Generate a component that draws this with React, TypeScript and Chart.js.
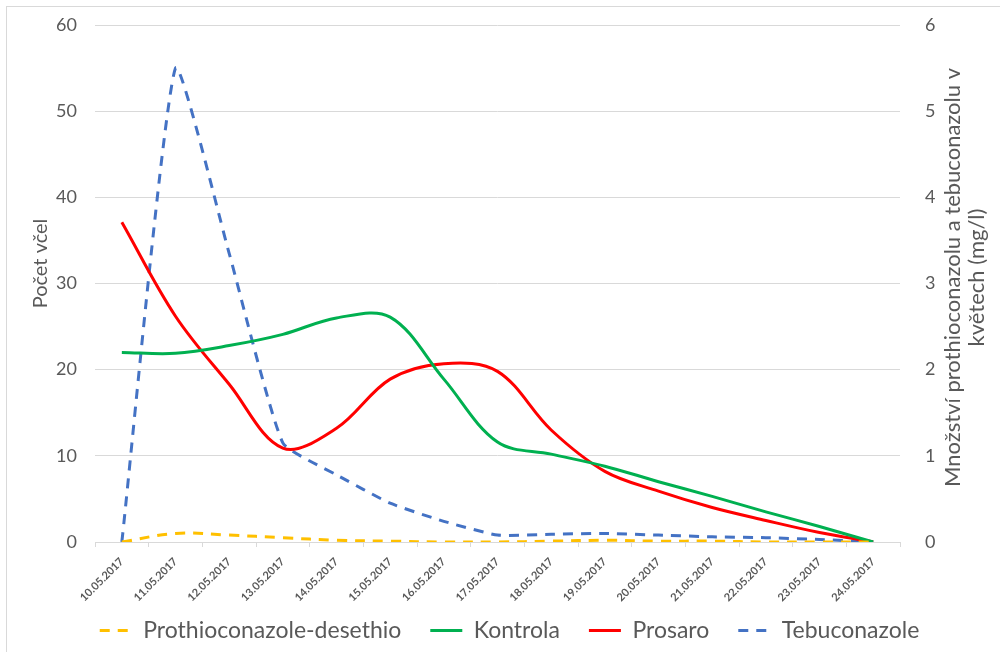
import React, { useEffect, useRef } from "react";
import { Chart, registerables } from "chart.js";

Chart.register(...registerables);

const FONT = "Lato, 'Open Sans', sans-serif";
const TEXT_COLOR = "#595959";
const GRID_COLOR = "#d9d9d9";

const dates = [
  "10.05.2017", "11.05.2017", "12.05.2017", "13.05.2017", "14.05.2017",
  "15.05.2017", "16.05.2017", "17.05.2017", "18.05.2017", "19.05.2017",
  "20.05.2017", "21.05.2017", "22.05.2017", "23.05.2017", "24.05.2017",
];

// right axis (mg/l)
const prothioconazoleDesethio = [0, 0.1, 0.08, 0.05, 0.02, 0.01, 0, 0, 0.01, 0.02, 0.01, 0.01, 0, 0, 0];
const tebuconazole = [0, 5.5, 3.35, 1.15, 0.78, 0.45, 0.24, 0.08, 0.09, 0.1, 0.08, 0.06, 0.05, 0.03, 0];

// left axis (počet včel)
const kontrola = [22.0, 21.9, 22.8, 24.1, 26.0, 26.1, 18.9, 11.6, 10.2, 8.8, 7.0, 5.3, 3.5, 1.8, 0];
const prosaro = [37.1, 26.2, 18.3, 10.9, 13.2, 18.9, 20.7, 19.8, 13.0, 8.2, 5.9, 4.0, 2.5, 1.1, 0];

const leftTicks = [0, 10, 20, 30, 40, 50, 60];
const rightTicks = [0, 1, 2, 3, 4, 5, 6];

const leftTitle = "Počet včel";
const rightTitle = ["Množství prothioconazolu a tebuconazolu v", "květech (mg/l)"];

const axisTitlePlugin = {
  id: "axisTitles",
  afterLayout(chart: any) {
    // let rotated category labels extend below the (compact) x-axis box
    const x = chart.scales.x;
    if (x) x.bottom = chart.height;
  },
  afterDraw(chart: any) {
    const { ctx, chartArea } = chart;
    const cy = (chartArea.top + chartArea.bottom) / 2;
    ctx.save();
    ctx.fillStyle = TEXT_COLOR;
    ctx.textAlign = "center";
    ctx.textBaseline = "middle";
    // left title
    ctx.save();
    ctx.font = `20px ${FONT}`;
    ctx.translate(chartArea.left - 54, cy - 20);
    ctx.rotate(-Math.PI / 2);
    ctx.fillText(leftTitle, 0, 0);
    ctx.restore();
    // right title (two lines, bottom-to-top)
    ctx.save();
    ctx.font = `22px ${FONT}`;
    ctx.translate(chartArea.right + 53, cy - 6);
    ctx.rotate(-Math.PI / 2);
    ctx.fillText(rightTitle[0], 0, 0);
    ctx.fillText(rightTitle[1], 0, 24);
    ctx.restore();
    ctx.restore();
  },
};

export default function App() {
  const ref = useRef<HTMLCanvasElement>(null);

  useEffect(() => {
    document.body.style.margin = "0";
    const canvas = ref.current!;
    const chart = new Chart(canvas, {
      type: "line",
      data: {
        labels: dates,
        datasets: [
          {
            label: "Prothioconazole-desethio",
            data: prothioconazoleDesethio,
            yAxisID: "y1",
            borderColor: "#FFC000",
            backgroundColor: "#FFC000",
            borderWidth: 3,
            borderDash: [10, 8],
            pointRadius: 0,
            pointStyle: "line",
            tension: 0.35,
          },
          {
            label: "Kontrola",
            data: kontrola,
            yAxisID: "y",
            borderColor: "#00B050",
            backgroundColor: "#00B050",
            borderWidth: 3,
            pointRadius: 0,
            pointStyle: "line",
            tension: 0.35,
          },
          {
            label: "Prosaro",
            data: prosaro,
            yAxisID: "y",
            borderColor: "#FF0000",
            backgroundColor: "#FF0000",
            borderWidth: 3,
            pointRadius: 0,
            pointStyle: "line",
            tension: 0.35,
          },
          {
            label: "Tebuconazole",
            data: tebuconazole,
            yAxisID: "y1",
            borderColor: "#4472C4",
            backgroundColor: "#4472C4",
            borderWidth: 3,
            borderDash: [10, 8],
            pointRadius: 0,
            pointStyle: "line",
            tension: 0.15,
          },
        ],
      },
      options: {
        responsive: false,
        animation: false,
        layout: { padding: { left: 19, right: 0, top: 25, bottom: 0 } },
        plugins: {
          tooltip: { enabled: false },
          legend: {
            position: "bottom",
            labels: {
              usePointStyle: true,
              pointStyleWidth: 32,
              padding: 29,
              color: TEXT_COLOR,
              font: { family: FONT, size: 23 },
              generateLabels: (c: any) => {
                const items = Chart.defaults.plugins.legend.labels.generateLabels(c);
                items.forEach((it: any) => {
                  const ds: any = c.data.datasets[it.datasetIndex];
                  it.lineDash = ds.borderDash || [];
                  it.lineWidth = ds.borderWidth;
                  it.strokeStyle = ds.borderColor;
                  it.fillStyle = ds.borderColor;
                  it.pointStyle = "line";
                });
                return items;
              },
            },
          },
        },
        scales: {
          x: {
            offset: true,
            afterFit: (s: any) => {
              s.height = 48;
            },
            grid: {
              display: true,
              offset: true,
              drawOnChartArea: false,
              drawTicks: true,
              tickLength: 5,
              color: GRID_COLOR,
            },
            border: { display: true, color: GRID_COLOR },
            ticks: {
              color: TEXT_COLOR,
              font: { family: FONT, size: 11, weight: "bold" },
              minRotation: 45,
              maxRotation: 45,
              autoSkip: false,
              padding: 8,
            },
          },
          y: {
            position: "left",
            min: 0,
            max: 60,
            afterBuildTicks: (s: any) => {
              s.ticks = leftTicks.map((v) => ({ value: v }));
            },
            afterFit: (s: any) => {
              s.width = 76;
            },
            grid: {
              color: GRID_COLOR,
              drawTicks: true,
              tickLength: 6,
              tickColor: "rgba(0,0,0,0)",
              lineWidth: 1,
            },
            border: { display: false },
            ticks: {
              color: TEXT_COLOR,
              font: { family: FONT, size: 18 },
              padding: 12,
            },
          },
          y1: {
            position: "right",
            min: 0,
            max: 6,
            afterBuildTicks: (s: any) => {
              s.ticks = rightTicks.map((v) => ({ value: v }));
            },
            afterFit: (s: any) => {
              s.width = 100;
            },
            grid: {
              drawOnChartArea: false,
              drawTicks: true,
              tickLength: 13,
              tickColor: "rgba(0,0,0,0)",
            },
            border: { display: false },
            ticks: {
              color: TEXT_COLOR,
              font: { family: FONT, size: 18 },
              padding: 12,
            },
          },
        },
      },
      plugins: [axisTitlePlugin],
    });
    return () => chart.destroy();
  }, []);

  return (
    <div style={{ position: "absolute", left: 0, top: 0, width: 1000, height: 652, background: "#fff" }}>
      <div
        style={{
          position: "absolute",
          left: 6,
          top: 6,
          width: 994,
          height: 646,
          borderLeft: `1px solid ${GRID_COLOR}`,
          borderTop: `1px solid ${GRID_COLOR}`,
          boxSizing: "border-box",
        }}
      />
      <canvas
        ref={ref}
        width={1000}
        height={652}
        style={{ position: "absolute", left: 0, top: 0, width: 1000, height: 652 }}
      />
    </div>
  );
}
